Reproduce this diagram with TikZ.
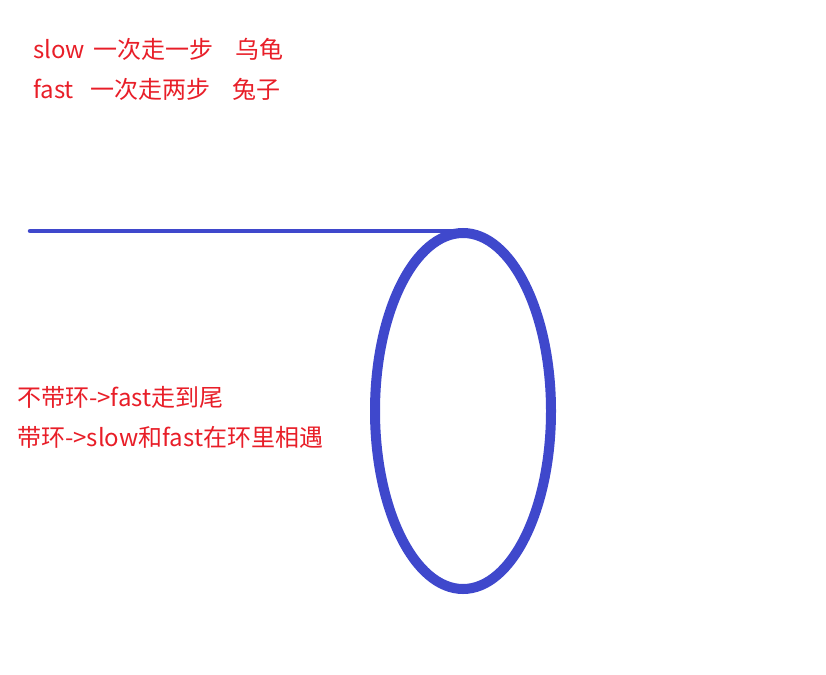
\documentclass[tikz,border=0pt]{standalone}
\usepackage{fontspec}
\usepackage{xcolor}
\usepackage{tikz}
\usetikzlibrary{shapes.geometric,positioning}
\newfontfamily\cjk{Noto Sans CJK SC}
\definecolor{penred}{RGB}{232,30,40}
\definecolor{penblue}{RGB}{63,72,204}

\begin{document}
\begin{tikzpicture}[
      x=1pt,y=-1pt,
      note/.style={
        anchor=base west,
        inner sep=0pt,
        text=penred,
        font=\cjk\fontsize{24}{28}\selectfont
      },
      ring/.style={
        ellipse,
        draw=penblue,
        line width=10pt,
        minimum width=176pt,
        minimum height=356pt,
        inner sep=0pt,
        outer sep=0pt
      },
      tail/.style={draw=penblue,line width=4.5pt,line cap=round}
    ]
    \useasboundingbox (0,0) rectangle (826,674);

    % slow / fast
    \node[note] (slow) at (33,59) {slow};
    \node[note] (slowstep) at (93,59) {一次走一步};
    \node[note] (slowpet) at (235,59) {乌龟};
    \node[note] (fast) at (33,99) {fast};
    \node[note] (faststep) at (90,99) {一次走两步};
    \node[note] (fastpet) at (232,99) {兔子};

    % list with loop
    \coordinate (head) at (30,231);
    \node[ring] (loop) at (463,411) {};
    \draw[tail] (head) -- (head -| loop.north);

    % results
    \node[note] (noloop) at (17,406) {不带环->fast走到尾};
    \node[note] (hasloop) at (17,446) {带环->slow和fast在环里相遇};
  \end{tikzpicture}
\end{document}
